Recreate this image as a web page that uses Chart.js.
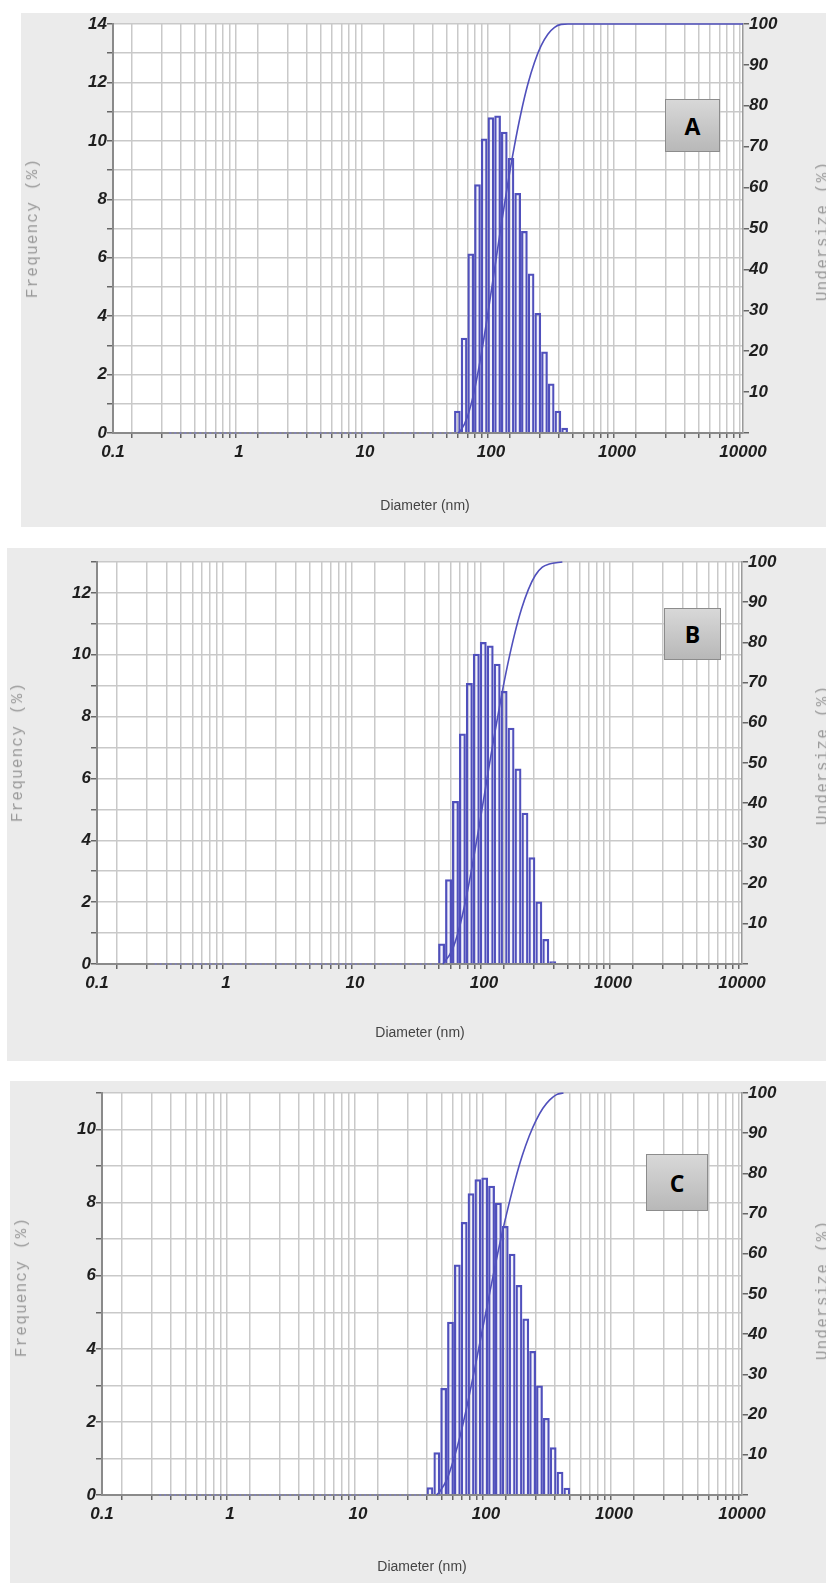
<!DOCTYPE html>
<html>
<head>
<meta charset="utf-8">
<script src="https://cdn.jsdelivr.net/npm/chart.js@4.4.1/dist/chart.umd.min.js"></script>
<style>
html { background: #ebebeb; }
html, body { margin: 0; padding: 0; overflow: hidden; }
#page { position: relative; width: 826px; height: 1583px; overflow: hidden; background: #fff; }
.panel { position: absolute; background: #ebebeb; overflow: hidden; }
.panel canvas { position: absolute; left: 0; top: 0; }
.plotbg { position: absolute; background: #fff; }
.tag { position: absolute; box-sizing: border-box; border: 1px solid #8c8c8c; background: linear-gradient(#d8d8d8, #b8b8b8);
       font: 700 23px "Open Sans", sans-serif; color: #000; display: flex; align-items: center; justify-content: center; }
.ytitle { position: absolute; font: 16px "Liberation Mono", monospace; color: #9a9a9a; letter-spacing: 1.2px; white-space: pre;
          transform: translate(-50%, -50%) rotate(-90deg); }
.xtitle { position: absolute; font: 14px "Liberation Sans", Arial, sans-serif; color: #444; white-space: pre;
          transform: translate(-50%, -50%); }
</style>
</head>
<body>
<div id="page"></div>
<script>
// Ось диаметров: декады и промежуточные деления
const decadeTicks = [0.1, 1, 10, 100, 1000, 10000];
const minorSteps = [2, 3, 4, 5, 6, 7, 8, 9];

// Образец A
const aDiameter = [54.1, 61.1, 69.1, 78.1, 88.3, 99.8, 112.8, 127.5, 144.1, 162.9, 184.1, 208.1, 235.2, 265.8, 300.5, 339.6, 383.9];
const aFrequency = [0.75, 3.25, 6.13, 8.5, 10.07, 10.8, 10.86, 10.3, 9.4, 8.2, 6.9, 5.45, 4.1, 2.78, 1.68, 0.75, 0.17];
const aUnderX = [54.5, 57.5, 65.0, 73.5, 83.0, 93.9, 106.1, 119.9, 135.5, 153.2, 173.1, 195.7, 221.2, 250.0, 282.6, 319.4, 361.0, 408, 10000];
const aUnderY = [0, 0.6, 4.0, 10.1, 18.6, 28.7, 39.5, 50.4, 60.7, 70.1, 78.3, 85.2, 90.6, 94.7, 97.5, 99.2, 99.9, 100, 100];
const aBaseline = [0.28, 52];

// Образец B
const bDiameter = [46.9, 53.1, 60.1, 68.0, 77.0, 87.2, 98.7, 111.7, 126.5, 143.2, 162.1, 183.5, 207.7, 235.1, 266.2, 301.3, 341.1];
const bFrequency = [0.65, 2.73, 5.26, 7.44, 9.08, 10.02, 10.4, 10.29, 9.7, 8.82, 7.63, 6.31, 4.88, 3.44, 2.01, 0.8, 0.08];
const bUnderX = [48, 56.5, 63.9, 72.4, 81.9, 92.8, 105.0, 118.8, 134.6, 152.4, 172.5, 195.2, 221.0, 250.1, 283.2, 320.6, 362.9, 405];
const bUnderY = [0, 3.4, 8.6, 16.1, 25.2, 35.2, 45.6, 55.9, 65.6, 74.4, 82.0, 88.3, 93.2, 96.7, 98.7, 99.5, 99.8, 100];
const bBaseline = [0.28, 45];

// Образец C
const cDiameter = [36.5, 41.3, 46.7, 52.8, 59.7, 67.5, 76.4, 86.4, 97.7, 110.5, 125.0, 141.4, 159.9, 180.9, 204.6, 231.4, 261.7, 296.0, 334.8, 378.7, 428.3];
const cFrequency = [0.2, 1.16, 2.92, 4.73, 6.30, 7.46, 8.25, 8.63, 8.68, 8.45, 7.99, 7.35, 6.59, 5.74, 4.82, 3.93, 2.99, 2.10, 1.3, 0.63, 0.19];
const cUnderX = [41, 43.9, 49.7, 56.1, 63.5, 71.8, 81.2, 91.9, 103.9, 117.5, 132.9, 150.4, 170.1, 192.4, 217.6, 246.1, 278.3, 314.8, 356.1, 402.8];
const cUnderY = [0, 1.0, 4.0, 9.0, 15.3, 22.8, 31.0, 39.7, 48.3, 56.8, 64.8, 72.1, 78.7, 84.5, 89.3, 93.2, 96.2, 98.3, 99.6, 100];
const cBaseline = [0.28, 35];

const blue = '#5050bc';
const tickFont = { family: '"Liberation Sans", Arial, sans-serif', size: 17, weight: 'bold', style: 'italic' };
const page = document.getElementById('page');

// Все деления логарифмической оси
const xTicks = [];
decadeTicks.forEach((d, i) => {
    xTicks.push(d);
    if (i < decadeTicks.length - 1) minorSteps.forEach(k => xTicks.push(d * k));
});

function addText(cls, text, x, y) {
    const el = document.createElement('div');
    el.className = cls;
    el.textContent = text;
    el.style.left = x + 'px';
    el.style.top = y + 'px';
    page.appendChild(el);
}

// Одна панель: серый фон, белое поле, график, подписи
function makePanel(p) {
    const box = document.createElement('div');
    box.className = 'panel';
    box.style.left = p.x + 'px';
    box.style.top = p.y + 'px';
    box.style.width = p.w + 'px';
    box.style.height = p.h + 'px';

    const bg = document.createElement('div');
    bg.className = 'plotbg';
    bg.style.left = p.left + 'px';
    bg.style.top = p.top + 'px';
    bg.style.width = (p.right - p.left) + 'px';
    bg.style.height = (p.bottom - p.top) + 'px';
    box.appendChild(bg);

    const canvas = document.createElement('canvas');
    canvas.width = p.w;
    canvas.height = p.h;
    box.appendChild(canvas);
    page.appendChild(box);

    const grid = { color: '#c9c9c9', lineWidth: 1.5, tickColor: '#666', tickLength: 6 };

    new Chart(canvas, {
        data: {
            datasets: [
                {
                    type: 'bar',
                    data: p.diameter.map((d, i) => ({ x: d, y: p.frequency[i] })),
                    yAxisID: 'y',
                    backgroundColor: 'rgba(90, 90, 200, 0.07)',
                    borderColor: blue,
                    borderWidth: 1.6,
                    barThickness: 'flex',
                    categoryPercentage: 1,
                    barPercentage: 0.9,
                    order: 2
                },
                {
                    type: 'line',
                    data: p.baseline.map(d => ({ x: d, y: 0 })),
                    yAxisID: 'y',
                    borderColor: '#7f7fc4',
                    borderWidth: 1.6,
                    borderDash: [2, 3],
                    pointRadius: 0,
                    clip: false,
                    order: 1
                },
                {
                    type: 'line',
                    data: p.underX.map((d, i) => ({ x: d, y: p.underY[i] })),
                    yAxisID: 'y2',
                    borderColor: blue,
                    borderWidth: 1.6,
                    pointRadius: 0,
                    cubicInterpolationMode: 'monotone',
                    clip: false,
                    order: 0
                }
            ]
        },
        options: {
            responsive: false,
            animation: false,
            layout: { padding: { top: p.top, left: 0, right: 0, bottom: 0 } },
            plugins: { legend: { display: false }, tooltip: { enabled: false } },
            scales: {
                x: {
                    type: 'logarithmic',
                    min: 0.1,
                    max: 10000,
                    afterBuildTicks: s => { s.ticks = xTicks.map(v => ({ value: v })); },
                    afterFit: s => { s.height = p.h - p.bottom; },
                    grid: { ...grid, tickLength: 5 },
                    border: { color: '#8a8a8a', width: 2 },
                    ticks: {
                        autoSkip: false, maxRotation: 0, padding: 4, color: '#1e1e1e', font: tickFont,
                        callback: v => decadeTicks.includes(v) ? String(v) : ''
                    }
                },
                y: {
                    position: 'left',
                    min: 0,
                    max: p.freqMax,
                    afterFit: s => { s.width = p.left; },
                    grid: grid,
                    border: { color: '#8a8a8a', width: 2 },
                    ticks: {
                        stepSize: 1, padding: 0, color: '#1e1e1e', font: tickFont,
                        callback: v => v % 2 === 0 ? String(v) : ''
                    }
                },
                y2: {
                    position: 'right',
                    min: 0,
                    max: 100,
                    afterFit: s => { s.width = p.w - p.right; },
                    grid: { ...grid, drawOnChartArea: false },
                    border: { color: '#9a9a9a', width: 1.5 },
                    ticks: {
                        stepSize: 5, padding: 0, color: '#1e1e1e', font: tickFont,
                        callback: v => (v % 10 === 0 && v > 0) ? String(v) : ''
                    }
                }
            }
        }
    });

    addText('ytitle', 'Frequency (%)', p.yTitle[0], p.yTitle[1]);
    addText('ytitle', 'Undersize (%)', 823, p.yTitle[1] + 3);
    addText('xtitle', 'Diameter (nm)', p.xTitle[0], p.xTitle[1]);

    const tag = document.createElement('div');
    tag.className = 'tag';
    tag.textContent = p.tag[0];
    tag.style.left = p.tag[1] + 'px';
    tag.style.top = p.tag[2] + 'px';
    tag.style.width = p.tag[3] + 'px';
    tag.style.height = p.tag[4] + 'px';
    page.appendChild(tag);
}

makePanel({
    x: 21, y: 13, w: 805, h: 514, left: 92, top: 11, right: 722, bottom: 420, freqMax: 14,
    diameter: aDiameter, frequency: aFrequency, underX: aUnderX, underY: aUnderY, baseline: aBaseline,
    yTitle: [33, 228], xTitle: [425, 505], tag: ['A', 665, 99, 55, 53]
});

makePanel({
    x: 7, y: 548, w: 819, h: 513, left: 90, top: 14, right: 735, bottom: 416, freqMax: 13,
    diameter: bDiameter, frequency: bFrequency, underX: bUnderX, underY: bUnderY, baseline: bBaseline,
    yTitle: [18, 752], xTitle: [420, 1032], tag: ['B', 664, 608, 57, 52]
});

makePanel({
    x: 10, y: 1081, w: 816, h: 502, left: 92, top: 12, right: 732, bottom: 414, freqMax: 11,
    diameter: cDiameter, frequency: cFrequency, underX: cUnderX, underY: cUnderY, baseline: cBaseline,
    yTitle: [22, 1287], xTitle: [422, 1566], tag: ['C', 646, 1154, 62, 57]
});
</script>
</body>
</html>
